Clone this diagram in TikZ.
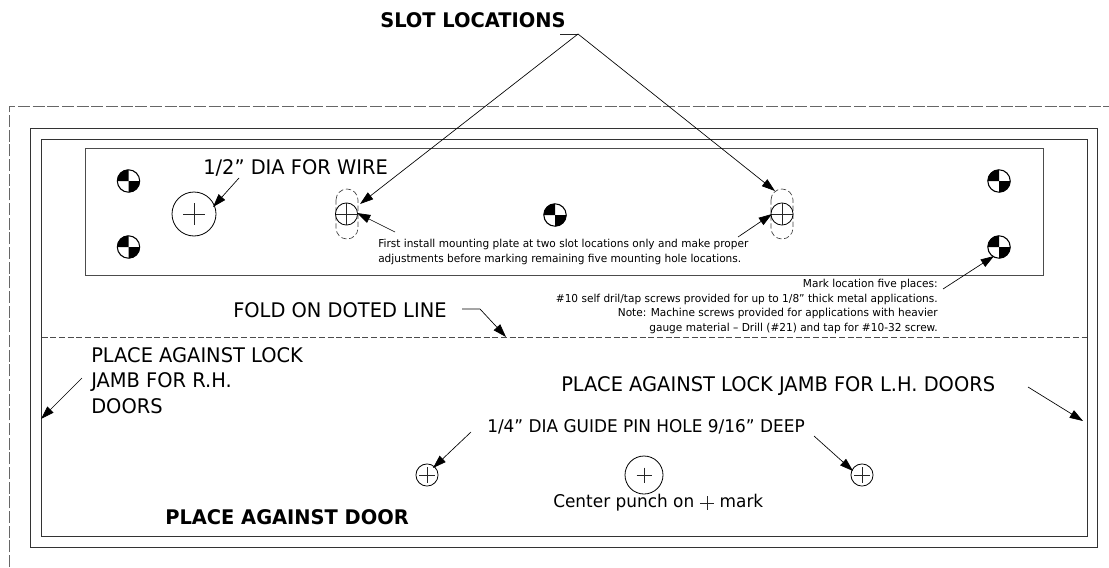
\documentclass[tikz,border=0pt]{standalone}
\usepackage{fontspec}
\setmainfont[FakeStretch=0.965]{DejaVu Sans}
\usetikzlibrary{arrows.meta,calc}
\tikzset{
  x=0.75pt,y=-0.75pt,
  part/.style={draw=black!70,line width=0.75pt},
  thin line/.style={draw=black!85,line width=0.5pt},
  fold/.style={draw=black!70,line width=0.5pt,dash pattern=on 4.5pt off 2pt},
  outline/.style={draw=black!60,line width=0.5pt,dash pattern=on 9pt off 2pt},
  slot/.style={draw=black!75,line width=0.5pt,dash pattern=on 4pt off 2pt},
  leader/.style={draw=black,line width=0.5pt,-{Triangle[length=10pt,width=6.5pt]}},
  hole/.style={circle,draw=black,line width=0.6pt,fill=white,inner sep=0pt},
  big/.style={font=\fontsize{15.1}{19.1}\selectfont,inner sep=0pt,align=left},
  mid/.style={font=\fontsize{13.15}{16}\selectfont,inner sep=0pt,align=left},
  heading/.style={font=\fontsize{15.1}{18}\selectfont\bfseries,inner sep=0pt},
  small/.style={font=\fontsize{8.2}{11}\selectfont,inner sep=0pt},
}
\newcommand{\target}[1]{
  \node[circle,draw=black,line width=0.8pt,fill=white,minimum size=16.8pt,inner sep=0pt] at (#1) {};
  \fill[black] (#1) -- ++(-11.5,0) arc (180:270:11.5) -- cycle;
  \fill[black] (#1) -- ++(11.5,0) arc (0:90:11.5) -- cycle;
}
\newcommand{\crossat}[2]{\draw[thin line] ($(#1)+(-#2,0)$) -- ($(#1)+(#2,0)$) ($(#1)+(0,-#2)$) -- ($(#1)+(0,#2)$);}
\begin{document}
\begin{tikzpicture}
\useasboundingbox (0,0) rectangle (1109,567);
% outlines
\draw[outline] (9,567) -- (9,106.5) -- (1109,106.5);
\draw[part,draw=black!80] (30.5,128) rectangle (1097,547);
\draw[part,draw=black!80] (41.5,139.5) rectangle (1087,536);
\draw[part] (85,148) rectangle (1043,275);
\draw[fold] (41.5,337) -- (1087,337);
% slots
\draw[slot] (336,200) arc (180:360:11) -- (358,228) arc (0:180:11) -- cycle;
\draw[slot] (771,200) arc (180:360:11) -- (793,228) arc (0:180:11) -- cycle;
% targets
\coordinate (t1) at (128.5,181);
\coordinate (t2) at (128.5,247);
\coordinate (t3) at (555,215);
\coordinate (t4) at (999,181);
\coordinate (t5) at (999,247);
\target{t1}\target{t2}\target{t3}\target{t4}\target{t5}
% holes
\node[hole,minimum size=33pt] (wire) at (194,214) {};
\crossat{wire}{11}
\node[hole,minimum size=16.6pt] (sl) at (346.5,214) {};
\crossat{sl}{11}
\node[hole,minimum size=16.6pt] (sr) at (782,214) {};
\crossat{sr}{11}
\node[hole,minimum size=16.6pt] (g1) at (427,475) {};
\crossat{g1}{8}
\node[hole,minimum size=28.5pt] (c) at (644,475) {};
\crossat{c}{7.5}
\node[hole,minimum size=16.6pt] (g2) at (862,475) {};
\crossat{g2}{8}
% text
\node[heading,anchor=west] (slottxt) at (380,20) {SLOT LOCATIONS};
\node[big,anchor=west] (wiretxt) at (203,168) {1/2” DIA FOR WIRE};
\node[small,anchor=north west,align=left] (first) at (378,239) {First install mounting plate at two slot locations only and make proper\\adjustments before marking remaining five mounting hole locations.};
\node[small,anchor=north east,align=right] (mark) at (938,279) {Mark location five places:\\\#10 self dril/tap screws provided for up to 1/8” thick metal applications.\\Note: Machine screws provided for applications with heavier\\gauge material – Drill (\#21) and tap for \#10-32 screw.};
\node[big,anchor=west] (foldtxt) at (233,310.5) {FOLD ON DOTED LINE};
\node[big,anchor=north west,align=left] (rh) at (91,347) {PLACE AGAINST LOCK\\JAMB FOR R.H.\\DOORS};
\node[big,anchor=west] (lh) at (561,386) {PLACE AGAINST LOCK JAMB FOR L.H. DOORS};
\node[mid,anchor=west] (pin) at (487,427) {1/4” DIA GUIDE PIN HOLE 9/16” DEEP};
\node[mid,anchor=west] (punch) at (553,503) {Center punch on \tikz[baseline=-0.5ex,x=0.75pt,y=-0.75pt]\draw[thin line] (-7,0)--(7,0) (0,-7)--(0,7); mark};
\node[heading,anchor=west] (door) at (165,517) {PLACE AGAINST DOOR};
% leader ends
\coordinate (apex) at (578,34);
\coordinate (stub) at (560,34);
\coordinate (sltip) at (360,204);
\coordinate (srtip) at (775,191);
\coordinate (ws) at (239,178);
\coordinate (wt) at (213,207);
\coordinate (fs) at (395,232);
\coordinate (ft) at (357,213);
\coordinate (frs) at (738,237);
\coordinate (frt) at (772,214);
\coordinate (ms) at (943,289);
\coordinate (mt) at (994,256);
\coordinate (fo1) at (462,309);
\coordinate (fo2) at (480,309);
\coordinate (fo3) at (506,337);
\coordinate (rs) at (82,378);
\coordinate (rt) at (41,419);
\coordinate (ls) at (1028,387);
\coordinate (lt) at (1083,421);
\coordinate (p1s) at (471,432);
\coordinate (p1t) at (433,468);
\coordinate (p2s) at (814,436);
\coordinate (p2t) at (853,471);
% leaders
\draw[thin line] (stub) -- (apex);
\draw[leader] (apex) -- (sltip);
\draw[leader] (apex) -- (srtip);
\draw[leader] (ws) -- (wt);
\draw[leader] (fs) -- (ft);
\draw[leader] (frs) -- (frt);
\draw[leader] (ms) -- (mt);
\draw[leader] (fo1) -- (fo2) -- (fo3);
\draw[leader] (rs) -- (rt);
\draw[leader] (ls) -- (lt);
\draw[leader] (p1s) -- (p1t);
\draw[leader] (p2s) -- (p2t);
\end{tikzpicture}
\end{document}
